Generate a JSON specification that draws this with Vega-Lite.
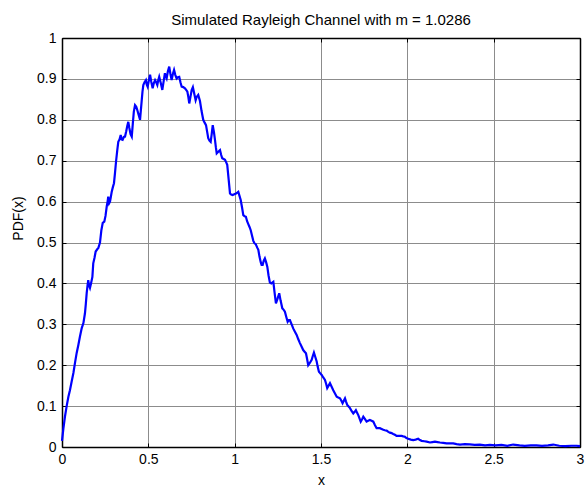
{
  "$schema": "https://vega.github.io/schema/vega-lite/v6.json",
  "width": 518,
  "height": 409,
  "autosize": {"type": "none"},
  "padding": {"left": 62, "top": 38, "right": 7, "bottom": 42},
  "background": "white",
  "title": {"text": "Simulated Rayleigh Channel with m = 1.0286", "fontSize": 15, "fontWeight": "normal", "font": "Liberation Sans", "color": "black", "offset": 10, "baseline": "bottom", "dy": 22},
  "config": {
    "view": {"stroke": null},
    "axis": {
      "domainColor": "black", "domainWidth": 1.5,
      "tickColor": "black", "tickSize": -4, "tickWidth": 1,
      "labelFont": "Liberation Sans", "labelFontSize": 14, "labelColor": "black", "labelFlush": false,
      "titleFont": "Liberation Sans", "titleFontSize": 14, "titleColor": "black", "titleFontWeight": "normal",
      "gridColor": "#8c8c8c", "gridOpacity": 1, "gridWidth": 1
    }
  },
  "data": {"values": [
    {"x": 0.000, "y": 0.015}, {"x": 0.008, "y": 0.045}, {"x": 0.017, "y": 0.074}, {"x": 0.027, "y": 0.100},
    {"x": 0.037, "y": 0.123}, {"x": 0.046, "y": 0.139}, {"x": 0.056, "y": 0.160}, {"x": 0.066, "y": 0.181},
    {"x": 0.075, "y": 0.205}, {"x": 0.085, "y": 0.230}, {"x": 0.095, "y": 0.250}, {"x": 0.104, "y": 0.270},
    {"x": 0.114, "y": 0.290}, {"x": 0.124, "y": 0.303}, {"x": 0.133, "y": 0.327}, {"x": 0.138, "y": 0.350},
    {"x": 0.143, "y": 0.376}, {"x": 0.148, "y": 0.395}, {"x": 0.152, "y": 0.408}, {"x": 0.157, "y": 0.395},
    {"x": 0.162, "y": 0.389}, {"x": 0.168, "y": 0.400}, {"x": 0.176, "y": 0.416}, {"x": 0.181, "y": 0.449},
    {"x": 0.188, "y": 0.462}, {"x": 0.195, "y": 0.478}, {"x": 0.205, "y": 0.484}, {"x": 0.210, "y": 0.486},
    {"x": 0.220, "y": 0.500}, {"x": 0.228, "y": 0.530}, {"x": 0.236, "y": 0.548}, {"x": 0.245, "y": 0.551},
    {"x": 0.252, "y": 0.565}, {"x": 0.259, "y": 0.588}, {"x": 0.264, "y": 0.600}, {"x": 0.268, "y": 0.612},
    {"x": 0.273, "y": 0.596}, {"x": 0.278, "y": 0.600}, {"x": 0.283, "y": 0.612}, {"x": 0.288, "y": 0.624},
    {"x": 0.295, "y": 0.636}, {"x": 0.301, "y": 0.645}, {"x": 0.307, "y": 0.670}, {"x": 0.313, "y": 0.698},
    {"x": 0.320, "y": 0.725}, {"x": 0.326, "y": 0.746}, {"x": 0.333, "y": 0.752}, {"x": 0.340, "y": 0.763},
    {"x": 0.345, "y": 0.752}, {"x": 0.351, "y": 0.751}, {"x": 0.358, "y": 0.758}, {"x": 0.365, "y": 0.759},
    {"x": 0.372, "y": 0.772}, {"x": 0.378, "y": 0.785}, {"x": 0.384, "y": 0.795}, {"x": 0.390, "y": 0.780},
    {"x": 0.397, "y": 0.765}, {"x": 0.404, "y": 0.759}, {"x": 0.410, "y": 0.790}, {"x": 0.416, "y": 0.820},
    {"x": 0.423, "y": 0.836}, {"x": 0.430, "y": 0.832}, {"x": 0.436, "y": 0.824}, {"x": 0.444, "y": 0.812},
    {"x": 0.452, "y": 0.800}, {"x": 0.457, "y": 0.825}, {"x": 0.461, "y": 0.844}, {"x": 0.466, "y": 0.868},
    {"x": 0.471, "y": 0.885}, {"x": 0.478, "y": 0.892}, {"x": 0.486, "y": 0.897}, {"x": 0.491, "y": 0.886},
    {"x": 0.496, "y": 0.881}, {"x": 0.503, "y": 0.896}, {"x": 0.510, "y": 0.910}, {"x": 0.517, "y": 0.893},
    {"x": 0.525, "y": 0.877}, {"x": 0.532, "y": 0.890}, {"x": 0.539, "y": 0.897}, {"x": 0.545, "y": 0.892},
    {"x": 0.552, "y": 0.885}, {"x": 0.557, "y": 0.896}, {"x": 0.563, "y": 0.905}, {"x": 0.572, "y": 0.890},
    {"x": 0.581, "y": 0.873}, {"x": 0.589, "y": 0.895}, {"x": 0.596, "y": 0.914}, {"x": 0.601, "y": 0.906},
    {"x": 0.606, "y": 0.901}, {"x": 0.613, "y": 0.918}, {"x": 0.621, "y": 0.930}, {"x": 0.628, "y": 0.912},
    {"x": 0.635, "y": 0.897}, {"x": 0.642, "y": 0.912}, {"x": 0.649, "y": 0.922}, {"x": 0.656, "y": 0.910},
    {"x": 0.664, "y": 0.901}, {"x": 0.671, "y": 0.904}, {"x": 0.679, "y": 0.905}, {"x": 0.686, "y": 0.892},
    {"x": 0.693, "y": 0.881}, {"x": 0.702, "y": 0.880}, {"x": 0.712, "y": 0.877}, {"x": 0.719, "y": 0.873},
    {"x": 0.726, "y": 0.869}, {"x": 0.732, "y": 0.855}, {"x": 0.737, "y": 0.840}, {"x": 0.744, "y": 0.856},
    {"x": 0.751, "y": 0.873}, {"x": 0.758, "y": 0.880}, {"x": 0.767, "y": 0.862}, {"x": 0.774, "y": 0.848},
    {"x": 0.780, "y": 0.856}, {"x": 0.789, "y": 0.861}, {"x": 0.799, "y": 0.846}, {"x": 0.808, "y": 0.822},
    {"x": 0.818, "y": 0.800}, {"x": 0.826, "y": 0.793}, {"x": 0.834, "y": 0.787}, {"x": 0.841, "y": 0.770},
    {"x": 0.847, "y": 0.755}, {"x": 0.854, "y": 0.749}, {"x": 0.861, "y": 0.746}, {"x": 0.867, "y": 0.765},
    {"x": 0.873, "y": 0.787}, {"x": 0.880, "y": 0.770}, {"x": 0.886, "y": 0.751}, {"x": 0.891, "y": 0.733},
    {"x": 0.896, "y": 0.718}, {"x": 0.905, "y": 0.722}, {"x": 0.915, "y": 0.726}, {"x": 0.922, "y": 0.714},
    {"x": 0.928, "y": 0.706}, {"x": 0.936, "y": 0.704}, {"x": 0.944, "y": 0.702}, {"x": 0.951, "y": 0.696},
    {"x": 0.957, "y": 0.690}, {"x": 0.965, "y": 0.655}, {"x": 0.973, "y": 0.620}, {"x": 0.980, "y": 0.617},
    {"x": 0.988, "y": 0.616}, {"x": 0.998, "y": 0.618}, {"x": 1.008, "y": 0.620}, {"x": 1.015, "y": 0.622},
    {"x": 1.021, "y": 0.624}, {"x": 1.028, "y": 0.614}, {"x": 1.035, "y": 0.604}, {"x": 1.043, "y": 0.585},
    {"x": 1.050, "y": 0.567}, {"x": 1.058, "y": 0.564}, {"x": 1.065, "y": 0.563}, {"x": 1.072, "y": 0.552},
    {"x": 1.079, "y": 0.545}, {"x": 1.086, "y": 0.538}, {"x": 1.093, "y": 0.530}, {"x": 1.100, "y": 0.518},
    {"x": 1.108, "y": 0.504}, {"x": 1.115, "y": 0.498}, {"x": 1.122, "y": 0.496}, {"x": 1.130, "y": 0.488},
    {"x": 1.137, "y": 0.482}, {"x": 1.144, "y": 0.465}, {"x": 1.151, "y": 0.452}, {"x": 1.156, "y": 0.445},
    {"x": 1.162, "y": 0.445}, {"x": 1.168, "y": 0.455}, {"x": 1.175, "y": 0.461}, {"x": 1.182, "y": 0.452},
    {"x": 1.189, "y": 0.441}, {"x": 1.196, "y": 0.420}, {"x": 1.204, "y": 0.402}, {"x": 1.212, "y": 0.400},
    {"x": 1.224, "y": 0.404}, {"x": 1.231, "y": 0.378}, {"x": 1.239, "y": 0.351}, {"x": 1.248, "y": 0.362},
    {"x": 1.258, "y": 0.376}, {"x": 1.266, "y": 0.358}, {"x": 1.276, "y": 0.339}, {"x": 1.283, "y": 0.336},
    {"x": 1.291, "y": 0.331}, {"x": 1.299, "y": 0.318}, {"x": 1.307, "y": 0.306}, {"x": 1.314, "y": 0.310},
    {"x": 1.320, "y": 0.310}, {"x": 1.330, "y": 0.300}, {"x": 1.339, "y": 0.290}, {"x": 1.349, "y": 0.282},
    {"x": 1.359, "y": 0.274}, {"x": 1.368, "y": 0.264}, {"x": 1.378, "y": 0.254}, {"x": 1.388, "y": 0.245},
    {"x": 1.397, "y": 0.237}, {"x": 1.405, "y": 0.233}, {"x": 1.413, "y": 0.229}, {"x": 1.420, "y": 0.214},
    {"x": 1.426, "y": 0.200}, {"x": 1.436, "y": 0.206}, {"x": 1.446, "y": 0.213}, {"x": 1.452, "y": 0.222},
    {"x": 1.459, "y": 0.231}, {"x": 1.467, "y": 0.220}, {"x": 1.475, "y": 0.209}, {"x": 1.481, "y": 0.196},
    {"x": 1.488, "y": 0.184}, {"x": 1.496, "y": 0.180}, {"x": 1.504, "y": 0.176}, {"x": 1.513, "y": 0.170},
    {"x": 1.523, "y": 0.164}, {"x": 1.530, "y": 0.154}, {"x": 1.536, "y": 0.144}, {"x": 1.544, "y": 0.150},
    {"x": 1.552, "y": 0.156}, {"x": 1.561, "y": 0.148}, {"x": 1.571, "y": 0.139}, {"x": 1.581, "y": 0.131},
    {"x": 1.591, "y": 0.123}, {"x": 1.600, "y": 0.121}, {"x": 1.610, "y": 0.119}, {"x": 1.618, "y": 0.113},
    {"x": 1.625, "y": 0.107}, {"x": 1.632, "y": 0.113}, {"x": 1.639, "y": 0.119}, {"x": 1.645, "y": 0.111},
    {"x": 1.652, "y": 0.103}, {"x": 1.660, "y": 0.099}, {"x": 1.668, "y": 0.095}, {"x": 1.677, "y": 0.088},
    {"x": 1.687, "y": 0.082}, {"x": 1.695, "y": 0.086}, {"x": 1.702, "y": 0.090}, {"x": 1.709, "y": 0.084},
    {"x": 1.716, "y": 0.078}, {"x": 1.723, "y": 0.070}, {"x": 1.730, "y": 0.062}, {"x": 1.738, "y": 0.068},
    {"x": 1.745, "y": 0.074}, {"x": 1.755, "y": 0.068}, {"x": 1.764, "y": 0.062}, {"x": 1.773, "y": 0.064},
    {"x": 1.783, "y": 0.066}, {"x": 1.793, "y": 0.064}, {"x": 1.803, "y": 0.062}, {"x": 1.812, "y": 0.054},
    {"x": 1.822, "y": 0.046}, {"x": 1.832, "y": 0.046}, {"x": 1.841, "y": 0.046}, {"x": 1.851, "y": 0.044},
    {"x": 1.861, "y": 0.042}, {"x": 1.870, "y": 0.041}, {"x": 1.880, "y": 0.040}, {"x": 1.890, "y": 0.037},
    {"x": 1.899, "y": 0.035}, {"x": 1.909, "y": 0.034}, {"x": 1.918, "y": 0.032}, {"x": 1.928, "y": 0.030},
    {"x": 1.938, "y": 0.027}, {"x": 1.952, "y": 0.027}, {"x": 1.967, "y": 0.027}, {"x": 1.976, "y": 0.026},
    {"x": 1.986, "y": 0.025}, {"x": 1.995, "y": 0.022}, {"x": 2.005, "y": 0.020}, {"x": 2.020, "y": 0.018},
    {"x": 2.034, "y": 0.017}, {"x": 2.048, "y": 0.018}, {"x": 2.063, "y": 0.020}, {"x": 2.073, "y": 0.017},
    {"x": 2.083, "y": 0.015}, {"x": 2.098, "y": 0.014}, {"x": 2.112, "y": 0.013}, {"x": 2.131, "y": 0.011},
    {"x": 2.145, "y": 0.012}, {"x": 2.160, "y": 0.013}, {"x": 2.175, "y": 0.012}, {"x": 2.189, "y": 0.011},
    {"x": 2.208, "y": 0.010}, {"x": 2.227, "y": 0.009}, {"x": 2.246, "y": 0.009}, {"x": 2.266, "y": 0.009},
    {"x": 2.285, "y": 0.007}, {"x": 2.305, "y": 0.006}, {"x": 2.333, "y": 0.007}, {"x": 2.362, "y": 0.0065},
    {"x": 2.390, "y": 0.005}, {"x": 2.420, "y": 0.006}, {"x": 2.450, "y": 0.004}, {"x": 2.478, "y": 0.005},
    {"x": 2.510, "y": 0.004}, {"x": 2.545, "y": 0.005}, {"x": 2.580, "y": 0.003}, {"x": 2.613, "y": 0.006},
    {"x": 2.650, "y": 0.004}, {"x": 2.680, "y": 0.003}, {"x": 2.715, "y": 0.004}, {"x": 2.748, "y": 0.004},
    {"x": 2.780, "y": 0.003}, {"x": 2.815, "y": 0.004}, {"x": 2.845, "y": 0.006}, {"x": 2.880, "y": 0.003},
    {"x": 2.915, "y": 0.002}, {"x": 2.950, "y": 0.003}, {"x": 2.980, "y": 0.003}, {"x": 3.000, "y": 0.002}
  ]},
  "layer": [
    {
      "mark": {"type": "line", "color": "#0000ff", "strokeWidth": 2.2},
      "encoding": {
        "x": {"field": "x", "type": "quantitative", "scale": {"domain": [0, 3], "nice": false, "zero": false},
          "axis": {"title": "x", "values": [0, 0.5, 1, 1.5, 2, 2.5, 3], "format": "~g", "grid": true, "labelPadding": 9, "titlePadding": 7}},
        "y": {"field": "y", "type": "quantitative", "scale": {"domain": [0, 1], "nice": false},
          "axis": {"title": "PDF(x)", "values": [0, 0.1, 0.2, 0.3, 0.4, 0.5, 0.6, 0.7, 0.8, 0.9, 1], "format": "~g", "grid": true, "labelPadding": 10, "titleX": -37, "titleY": 180}}
      }
    },
    {
      "mark": {"type": "line", "strokeOpacity": 0},
      "encoding": {
        "x": {"field": "x", "type": "quantitative", "scale": {"domain": [0, 3], "nice": false, "zero": false},
          "axis": {"orient": "top", "title": null, "labels": false, "grid": false, "values": [0, 0.5, 1, 1.5, 2, 2.5, 3]}},
        "y": {"field": "y", "type": "quantitative", "scale": {"domain": [0, 1], "nice": false},
          "axis": {"orient": "right", "title": null, "labels": false, "grid": false, "values": [0, 0.1, 0.2, 0.3, 0.4, 0.5, 0.6, 0.7, 0.8, 0.9, 1]}}
      }
    }
  ],
  "resolve": {"axis": {"x": "independent", "y": "independent"}}
}
